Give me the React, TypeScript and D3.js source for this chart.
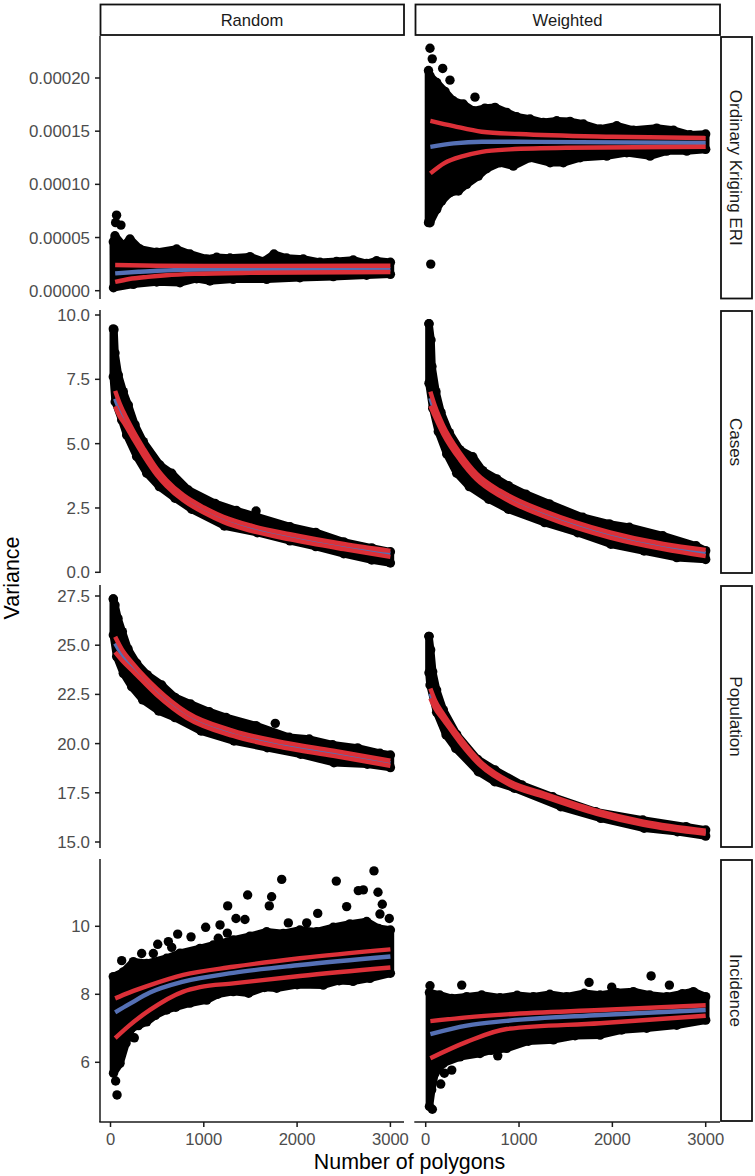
import React from "react";
import * as d3 from "d3";

type P = [number, number];
const facets = ["Random", "Weighted"];
const rows = ["Ordinary Kriging ERI", "Cases", "Population", "Incidence"];
const xTicks = [0, 1000, 2000, 3000];
const yTicksEri = [0, 0.00005, 0.0001, 0.00015, 0.0002];
const yTicksCases = [0, 2.5, 5, 7.5, 10];
const yTicksPop = [15, 17.5, 20, 22.5, 25, 27.5];
const yTicksInc = [6, 8, 10];
const yLabelsEri = ["0.00000", "0.00005", "0.00010", "0.00015", "0.00020"];
const yLabelsCases = ["0.0", "2.5", "5.0", "7.5", "10.0"];
const yLabelsPop = ["15.0", "17.5", "20.0", "22.5", "25.0", "27.5"];
const yLabelsInc = ["6", "8", "10"];

// Values in units of 1e-5 for the ERI row
const eriRUp: P[] = [[30,4.6],[48,5.17],[137,4.23],[209,4.86],[316,3.92],[495,3.61],[709,3.92],[852,3.45],[1031,2.98],[1138,3.14],[1281,3.07],[1495,3.2],[1638,2.76],[1752,3.45],[1888,3.07],[2066,2.98],[2245,2.67],[2423,2.76],[2602,2.89],[2745,2.57],[2852,2.82],[3000,2.67]];
const eriRLo: P[] = [[32,0.28],[245,0.6],[495,0.82],[745,0.75],[923,1.13],[1066,0.91],[1316,1.07],[1674,1.07],[2030,1.22],[2388,1.32],[2745,1.45],[3000,1.54]];
const eriROut: P[] = [[65,7.1],[55,6.4],[112,6.17]];
const eriRTop: P[] = [[50,2.42],[500,2.35],[1000,2.33],[3000,2.35]];
const eriRMid: P[] = [[50,1.63],[300,1.78],[500,1.88],[1000,1.98],[2000,2.0],[3000,2.02]];
const eriRBot: P[] = [[50,0.82],[200,1.1],[400,1.3],[600,1.45],[900,1.58],[1500,1.68],[3000,1.76]];

const eriWUp: P[] = [[30,20.7],[46,20.2],[118,19.58],[207,18.74],[296,17.86],[403,17.55],[511,16.92],[635,17.17],[743,17.24],[868,16.77],[975,16.35],[1118,16.14],[1261,15.83],[1404,15.98],[1547,15.92],[1690,15.67],[1868,15.2],[2047,15.51],[2225,15.1],[2475,15.29],[2654,15.1],[2833,14.66],[3000,14.73]];
const eriWLo: P[] = [[30,6.4],[46,6.39],[118,7.65],[172,8.43],[261,9.21],[350,9.37],[439,10.0],[564,10.78],[653,11.47],[796,12.03],[939,11.72],[1118,12.5],[1333,12.03],[1475,12.03],[1654,12.5],[1940,12.66],[2154,12.97],[2404,12.66],[2583,13.13],[2797,13.13],[3000,13.29]];
const eriWOut: P[] = [[46,22.8],[70,21.8],[182,20.9],[260,19.8],[528,18.2],[54,2.5]];
const eriWTop: P[] = [[50,15.98],[300,15.48],[600,14.95],[1000,14.73],[2000,14.47],[3000,14.35]];
const eriWMid: P[] = [[50,13.53],[300,13.85],[600,14.0],[1000,14.0],[3000,13.9]];
const eriWBot: P[] = [[50,11.03],[200,12.0],[400,12.66],[600,13.06],[900,13.29],[1500,13.44],[3000,13.53]];

const casesRUp: P[] = [[37,9.43],[48,8.52],[84,7.67],[137,7.02],[191,6.5],[263,5.73],[352,5.08],[530,4.17],[656,3.85],[834,3.2],[1120,2.68],[1350,2.4],[1567,2.16],[1924,1.77],[2200,1.55],[2500,1.18],[2800,0.95],[3000,0.8]];
const casesRLo: P[] = [[30,9.46],[30,7.6],[50,6.63],[120,5.92],[173,5.34],[280,4.5],[388,3.85],[523,3.33],[691,2.88],[870,2.45],[1220,1.8],[1574,1.54],[1924,1.22],[2200,1.0],[2500,0.72],[2800,0.48],[3000,0.36]];
const casesROut: P[] = [[1560,2.38]];
const casesRTop: P[] = [[50,7.05],[100,6.55],[137,6.25],[245,5.49],[352,4.83],[495,4.03],[600,3.58],[780,3.0],[1000,2.52],[1209,2.16],[1500,1.82],[1924,1.48],[2500,1.1],[3000,0.83]];
const casesRMid: P[] = [[50,6.75],[100,6.3],[137,6.05],[245,5.34],[352,4.69],[495,3.91],[600,3.47],[780,2.9],[1000,2.42],[1209,2.06],[1500,1.72],[1924,1.38],[2500,1.0],[3000,0.72]];
const casesRBot: P[] = [[50,6.45],[100,6.05],[137,5.85],[245,5.19],[352,4.55],[495,3.79],[600,3.36],[780,2.8],[1000,2.32],[1209,1.96],[1500,1.62],[1924,1.28],[2500,0.9],[3000,0.6]];

const casesWUp: P[] = [[35,9.66],[57,9.03],[67,8.0],[110,7.02],[164,6.22],[253,5.43],[368,4.76],[504,4.49],[611,3.95],[761,3.63],[885,3.37],[1072,3.04],[1325,2.66],[1683,2.14],[1968,1.88],[2182,1.75],[2540,1.42],[2897,1.03],[3000,0.84]];
const casesWLo: P[] = [[35,9.66],[35,7.35],[75,6.38],[135,5.47],[225,4.6],[332,3.85],[467,3.33],[675,2.84],[885,2.45],[1275,1.93],[1628,1.54],[1983,1.09],[2340,0.83],[2690,0.57],[3000,0.5]];
const casesWTop: P[] = [[50,7.02],[100,6.45],[189,5.69],[368,4.63],[546,3.83],[796,3.17],[1000,2.78],[1260,2.39],[1975,1.55],[2547,1.1],[3000,0.87]];
const casesWMid: P[] = [[50,6.77],[100,6.25],[189,5.53],[368,4.5],[546,3.72],[796,3.07],[1000,2.68],[1260,2.29],[1975,1.45],[2547,1.0],[3000,0.75]];
const casesWBot: P[] = [[50,6.47],[100,6.05],[189,5.37],[368,4.37],[546,3.61],[796,2.97],[1000,2.58],[1260,2.19],[1975,1.35],[2547,0.9],[3000,0.63]];

const popRUp: P[] = [[30,27.35],[48,27.04],[80,26.37],[127,25.69],[188,24.81],[281,24.08],[395,23.49],[549,22.98],[691,22.35],[859,22.01],[1059,21.62],[1238,21.33],[1559,20.91],[1916,20.32],[2130,20.23],[2381,19.94],[2649,19.78],[2888,19.51],[3000,19.42]];
const popRLo: P[] = [[30,27.35],[30,25.52],[66,24.42],[137,23.57],[227,22.89],[345,22.22],[516,21.66],[691,21.32],[970,20.64],[1324,20.13],[1680,19.79],[2038,19.46],[2395,19.03],[2752,18.95],[3000,18.78]];
const popROut: P[] = [[1766,21.03]];
const popRTop: P[] = [[50,25.43],[120,24.8],[245,24.04],[495,22.8],[817,21.59],[1316,20.65],[1852,20.06],[2388,19.64],[3000,19.13]];
const popRMid: P[] = [[50,25.09],[120,24.55],[245,23.85],[495,22.64],[817,21.45],[1316,20.52],[1852,19.93],[2388,19.51],[3000,19.0]];
const popRBot: P[] = [[50,24.65],[120,24.25],[245,23.66],[495,22.48],[817,21.31],[1316,20.39],[1852,19.8],[2388,19.38],[3000,18.87]];

const popWUp: P[] = [[35,25.45],[53,24.76],[75,23.65],[117,22.72],[189,21.71],[332,20.47],[557,19.2],[743,18.66],[1029,17.9],[1361,17.3],[1822,16.54],[2326,16.12],[2790,15.78],[3000,15.61]];
const popWLo: P[] = [[35,25.45],[35,23.6],[46,22.98],[117,21.59],[218,20.44],[321,19.76],[564,18.57],[739,18.06],[950,17.73],[1447,16.79],[1876,16.2],[2340,15.7],[2697,15.52],[3000,15.3]];
const popWTop: P[] = [[50,22.8],[100,22.2],[189,21.5],[368,20.3],[582,19.1],[904,18.06],[1260,17.47],[1833,16.59],[2333,16.03],[3000,15.57]];
const popWMid: P[] = [[50,22.55],[100,22.0],[189,21.37],[368,20.18],[582,19.0],[904,17.98],[1260,17.39],[1833,16.51],[2333,15.95],[3000,15.49]];
const popWBot: P[] = [[50,22.3],[100,21.8],[189,21.22],[368,20.05],[582,18.9],[904,17.9],[1260,17.31],[1833,16.43],[2333,15.87],[3000,15.41]];

const incRUp: P[] = [[30,8.52],[137,8.66],[245,8.96],[388,8.91],[602,9.06],[745,9.21],[959,9.35],[1102,9.45],[1316,9.6],[1495,9.71],[1674,9.84],[1852,9.79],[2030,9.89],[2209,9.84],[2388,9.97],[2566,10.07],[2746,10.14],[2871,9.94],[3000,9.89]];
const incRLo: P[] = [[32,5.68],[102,5.97],[166,6.56],[227,7.0],[300,7.08],[388,7.19],[480,7.38],[602,7.54],[700,7.62],[852,7.74],[1031,7.83],[1150,8.0],[1316,8.08],[1480,8.03],[1650,8.2],[1781,8.18],[2000,8.28],[2280,8.27],[2450,8.4],[2600,8.38],[2781,8.47],[3000,8.62]];
const incROut: P[] = [[2824,11.63],[2420,11.33],[1835,11.38],[1470,10.92],[1727,10.87],[1702,10.6],[1256,10.6],[2656,11.05],[2710,11.07],[2867,11.0],[2913,10.65],[2531,10.58],[2888,10.36],[2221,10.38],[1345,10.23],[1441,10.2],[1174,10.04],[1020,9.97],[720,9.77],[863,9.69],[506,9.47],[620,9.55],[656,9.38],[334,9.2],[459,9.2],[120,8.99],[2988,10.23],[1906,10.1],[2103,10.1],[1252,9.8],[1155,9.65],[70,5.04],[55,5.45],[255,6.72]];
const incRTop: P[] = [[50,7.88],[200,8.05],[423,8.27],[780,8.57],[1316,8.81],[2030,9.06],[3000,9.32]];
const incRMid: P[] = [[50,7.47],[200,7.71],[423,8.05],[780,8.37],[1316,8.63],[2030,8.86],[3000,9.11]];
const incRBot: P[] = [[50,6.71],[200,7.08],[423,7.54],[780,8.08],[959,8.21],[1316,8.32],[2030,8.54],[3000,8.79]];

const incWUp: P[] = [[40,8.05],[150,7.98],[280,7.88],[439,7.93],[600,7.98],[796,7.9],[980,7.97],[1153,7.93],[1330,8.0],[1510,7.93],[1700,8.03],[1868,7.98],[2050,8.05],[2225,8.08],[2400,7.98],[2583,7.93],[2750,8.02],[2868,8.08],[3000,7.93]];
const incWLo: P[] = [[40,4.7],[64,5.19],[100,5.68],[189,5.97],[368,6.16],[582,6.26],[700,6.35],[868,6.41],[1100,6.62],[1368,6.66],[1600,6.78],[1868,6.8],[2100,6.95],[2368,7.0],[2690,7.09],[3000,7.24]];
const incWOut: P[] = [[2415,8.54],[1750,8.35],[1993,8.21],[2611,8.27],[46,8.25],[386,8.27],[772,6.19],[279,5.77],[161,5.36],[200,5.68],[71,4.62]];
const incWTop: P[] = [[50,7.21],[439,7.32],[868,7.41],[1868,7.54],[3000,7.68]];
const incWMid: P[] = [[50,6.83],[439,7.08],[868,7.22],[1868,7.39],[3000,7.54]];
const incWBot: P[] = [[50,6.12],[439,6.6],[868,6.98],[1868,7.15],[3000,7.37]];

const RED = "#dc3038";
const BLUE = "#5570b5";
const INK = "#1a1a1a";
const FONT = "'Liberation Sans', Arial, sans-serif";
const R = 4.7;

const colX = [
  { left: 100, right: 404, x0: 110.5, x1: 390.4 },
  { left: 415, right: 720, x0: 425.7, x1: 705.7 },
];
const rowY = [
  { top: 36, bottom: 299, a: 0, pa: 290.7, b: 0.0002, pb: 78, ticks: yTicksEri, labels: yLabelsEri, k: 1e-5, sTop: 37, sBot: 298.5 },
  { top: 310, bottom: 573, a: 0, pa: 572.3, b: 10, pb: 315, ticks: yTicksCases, labels: yLabelsCases, k: 1, sTop: 311, sBot: 573 },
  { top: 585, bottom: 848, a: 15, pa: 842, b: 27.5, pb: 596, ticks: yTicksPop, labels: yLabelsPop, k: 1, sTop: 586, sBot: 847 },
  { top: 859, bottom: 1122, a: 6, pa: 1062.3, b: 10, pb: 926.3, ticks: yTicksInc, labels: yLabelsInc, k: 1, sTop: 860, sBot: 1121 },
];
const panels: { r: number; c: number; up: P[]; lo: P[]; out: P[]; top: P[]; mid: P[]; bot: P[] }[] = [
  { r: 0, c: 0, up: eriRUp, lo: eriRLo, out: eriROut, top: eriRTop, mid: eriRMid, bot: eriRBot },
  { r: 0, c: 1, up: eriWUp, lo: eriWLo, out: eriWOut, top: eriWTop, mid: eriWMid, bot: eriWBot },
  { r: 1, c: 0, up: casesRUp, lo: casesRLo, out: casesROut, top: casesRTop, mid: casesRMid, bot: casesRBot },
  { r: 1, c: 1, up: casesWUp, lo: casesWLo, out: [], top: casesWTop, mid: casesWMid, bot: casesWBot },
  { r: 2, c: 0, up: popRUp, lo: popRLo, out: popROut, top: popRTop, mid: popRMid, bot: popRBot },
  { r: 2, c: 1, up: popWUp, lo: popWLo, out: [], top: popWTop, mid: popWMid, bot: popWBot },
  { r: 3, c: 0, up: incRUp, lo: incRLo, out: incROut, top: incRTop, mid: incRMid, bot: incRBot },
  { r: 3, c: 1, up: incWUp, lo: incWLo, out: incWOut, top: incWTop, mid: incWMid, bot: incWBot },
];

function Panel({ p }: { p: (typeof panels)[number] }) {
  const col = colX[p.c];
  const row = rowY[p.r];
  const x = d3.scaleLinear().domain([0, 3000]).range([col.x0, col.x1]);
  const y = d3.scaleLinear().domain([row.a, row.b]).range([row.pa, row.pb]);
  const px = (d: P) => x(d[0]);
  const py = (d: P) => y(d[1] * row.k);
  const poly = d3.line<P>().x(px).y(py)([...p.up, ...[...p.lo].reverse()]) + "Z";
  const curve = d3.line<P>().x(px).y(py).curve(d3.curveMonotoneX);
  const all = [...p.up, ...p.lo, ...p.out];
  return (
    <g>
      <path d={poly} fill="#000" stroke="#000" strokeWidth={7.6} strokeLinejoin="round" />
      {all.map((d, i) => (
        <circle key={i} cx={px(d)} cy={py(d)} r={R} fill="#000" />
      ))}
      <path d={curve(p.mid)!} fill="none" stroke={BLUE} strokeWidth={4.4} />
      <path d={curve(p.top)!} fill="none" stroke={RED} strokeWidth={4.4} />
      <path d={curve(p.bot)!} fill="none" stroke={RED} strokeWidth={4.4} />
    </g>
  );
}

export default function App() {
  return (
    <svg
      width={755}
      height={1176}
      style={{ position: "absolute", left: 0, top: 0, background: "#fff" }}
      fontFamily={FONT}
    >
      {panels.map((p) => (
        <Panel key={`${p.r}-${p.c}`} p={p} />
      ))}

      {rowY.map((row, i) => {
        const y = d3.scaleLinear().domain([row.a, row.b]).range([row.pa, row.pb]);
        return (
          <g key={i}>
            <line x1={100} x2={100} y1={row.top} y2={row.bottom} stroke={INK} strokeWidth={1.5} />
            {row.ticks.map((t, j) => (
              <g key={j}>
                <line x1={95} x2={100} y1={y(t)} y2={y(t)} stroke={INK} strokeWidth={1.5} />
                <text x={90} y={y(t)} dy="0.36em" textAnchor="end" fontSize={16.9} fill="#4d4d4d">
                  {row.labels[j]}
                </text>
              </g>
            ))}
            <rect x={721} y={row.sTop} width={31} height={row.sBot - row.sTop} fill="#fff" stroke="#111" strokeWidth={1.8} />
            <text
              transform={`translate(736.5,${(row.sTop + row.sBot) / 2}) rotate(90)`}
              textAnchor="middle"
              dy="0.36em"
              fontSize={17}
              fill="#1a1a1a"
            >
              {rows[i]}
            </text>
          </g>
        );
      })}

      {colX.map((col, i) => {
        const x = d3.scaleLinear().domain([0, 3000]).range([col.x0, col.x1]);
        return (
          <g key={i}>
            <rect x={col.left + 0.5} y={4.5} width={col.right - col.left - 0.5} height={30.5} fill="#fff" stroke="#111" strokeWidth={1.8} />
            <text x={(col.left + col.right) / 2} y={20} dy="0.36em" textAnchor="middle" fontSize={16.6} fill="#1a1a1a">
              {facets[i]}
            </text>
            <line x1={col.left - 0.7} x2={col.right} y1={1122} y2={1122} stroke={INK} strokeWidth={1.5} />
            {xTicks.map((t) => (
              <g key={t}>
                <line x1={x(t)} x2={x(t)} y1={1122} y2={1127} stroke={INK} strokeWidth={1.5} />
                <text x={x(t)} y={1139} dy="0.36em" textAnchor="middle" fontSize={16.6} fill="#4d4d4d">
                  {t}
                </text>
              </g>
            ))}
          </g>
        );
      })}

      <text x={409.5} y={1161} dy="0.36em" textAnchor="middle" fontSize={21.4} fill="#000">
        Number of polygons
      </text>
      <text transform="translate(11,578) rotate(-90)" dy="0.36em" textAnchor="middle" fontSize={21.4} fill="#000">
        Variance
      </text>
    </svg>
  );
}
